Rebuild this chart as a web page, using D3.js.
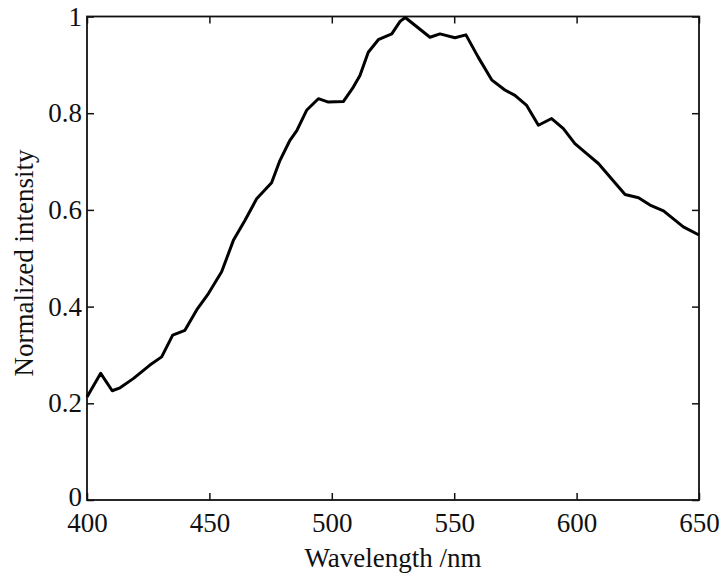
<!DOCTYPE html>
<html>
<head>
<meta charset="utf-8">
<script src="https://cdn.jsdelivr.net/npm/d3@7"></script>
<style>
  body { margin: 0; background: #fff; }
  svg { display: block; }
  .axis text { font-family: "Liberation Serif", "Times New Roman", serif; font-size: 27px; fill: #111; }
  .axis line { stroke: #111; stroke-width: 1.5px; }
  .axis path { display: none; }
</style>
</head>
<body>
<div id="chart"></div>
<script>
const wavelength = [400, 405.6, 410.3, 413.5, 418.9, 425.7, 430.5, 435, 440, 444.8,
    449.6, 455, 459.8, 464.5, 469.3, 475.4, 478.8, 482.9, 485.7, 489.7,
    494.5, 498.6, 504.7, 508.8, 511.5, 514.9, 519, 524.5, 527.9, 530,
    540.1, 544.2, 550.3, 554.8, 559.8, 565.3, 570.7, 574.8, 579.6, 584.4,
    589.8, 594.6, 599.3, 604, 608.9, 619.8, 625.3, 630, 635.5, 643.6, 650]
const intensity = [0.213, 0.262, 0.226, 0.232, 0.251, 0.279, 0.296, 0.341, 0.351, 0.393,
    0.427, 0.472, 0.537, 0.578, 0.623, 0.656, 0.702, 0.744, 0.764, 0.806,
    0.830, 0.823, 0.824, 0.854, 0.878, 0.926, 0.952, 0.964, 0.990, 0.998,
    0.957, 0.964, 0.956, 0.962, 0.916, 0.869, 0.848, 0.837, 0.816, 0.775,
    0.789, 0.768, 0.737, 0.717, 0.696, 0.632, 0.625, 0.610, 0.598, 0.565, 0.548]
const xTicks = [400, 450, 500, 550, 600, 650]
const yTicks = [0, 0.2, 0.4, 0.6, 0.8, 1]

const width = 720, height = 577
const margin = { left: 87, right: 21, top: 16.5, bottom: 77 }
const serif = '"Liberation Serif", "Times New Roman", serif'

const svg = d3.select('#chart').append('svg')
    .attr('width', width)
    .attr('height', height)

const x = d3.scaleLinear().domain([400, 650]).range([margin.left, width - margin.right])
const y = d3.scaleLinear().domain([0, 1]).range([height - margin.bottom, margin.top])

const yFmt = d => (d === 0 || d === 1) ? String(d) : d.toFixed(1)

// ticks point inward on all four sides
svg.append('g')
    .attr('class', 'axis')
    .attr('transform', 'translate(0,' + y(0) + ')')
    .call(d3.axisBottom(x).tickValues(xTicks).tickSizeInner(-7).tickSizeOuter(0).tickPadding(12.5))

svg.append('g')
    .attr('class', 'axis')
    .attr('transform', 'translate(0,' + y(1) + ')')
    .call(d3.axisTop(x).tickValues(xTicks).tickSizeInner(-7).tickSizeOuter(0).tickFormat(''))

const yAxis = svg.append('g')
    .attr('class', 'axis')
    .attr('transform', 'translate(' + x(400) + ',0)')
    .call(d3.axisLeft(y).tickValues(yTicks).tickSizeInner(-7).tickSizeOuter(0).tickPadding(5).tickFormat(yFmt))

// nudge the "0" so it sits just above the 400 label
yAxis.selectAll('.tick text').filter(d => d === 0).attr('dy', '0.2em')

svg.append('g')
    .attr('class', 'axis')
    .attr('transform', 'translate(' + x(650) + ',0)')
    .call(d3.axisRight(y).tickValues(yTicks).tickSizeInner(-7).tickSizeOuter(0).tickFormat(''))

// frame
svg.append('rect')
    .attr('x', x(400))
    .attr('y', y(1))
    .attr('width', x(650) - x(400))
    .attr('height', y(0) - y(1))
    .attr('fill', 'none')
    .attr('stroke', '#111')
    .attr('stroke-width', 1.8)

const pts = wavelength.map((w, i) => [w, intensity[i]])

const line = d3.line()
    .x(d => x(d[0]))
    .y(d => y(d[1]))

svg.append('path')
    .datum(pts)
    .attr('fill', 'none')
    .attr('stroke', '#000')
    .attr('stroke-width', 3)
    .attr('stroke-linejoin', 'round')
    .attr('d', line)

svg.append('text')
    .attr('x', (x(400) + x(650)) / 2)
    .attr('y', 566.5)
    .attr('text-anchor', 'middle')
    .style('font-family', serif)
    .style('font-size', '27px')
    .style('fill', '#111')
    .text('Wavelength /nm')

svg.append('text')
    .attr('transform', 'translate(33,263) rotate(-90)')
    .attr('text-anchor', 'middle')
    .style('font-family', serif)
    .style('font-size', '27px')
    .style('fill', '#111')
    .text('Normalized intensity')
</script>
</body>
</html>
